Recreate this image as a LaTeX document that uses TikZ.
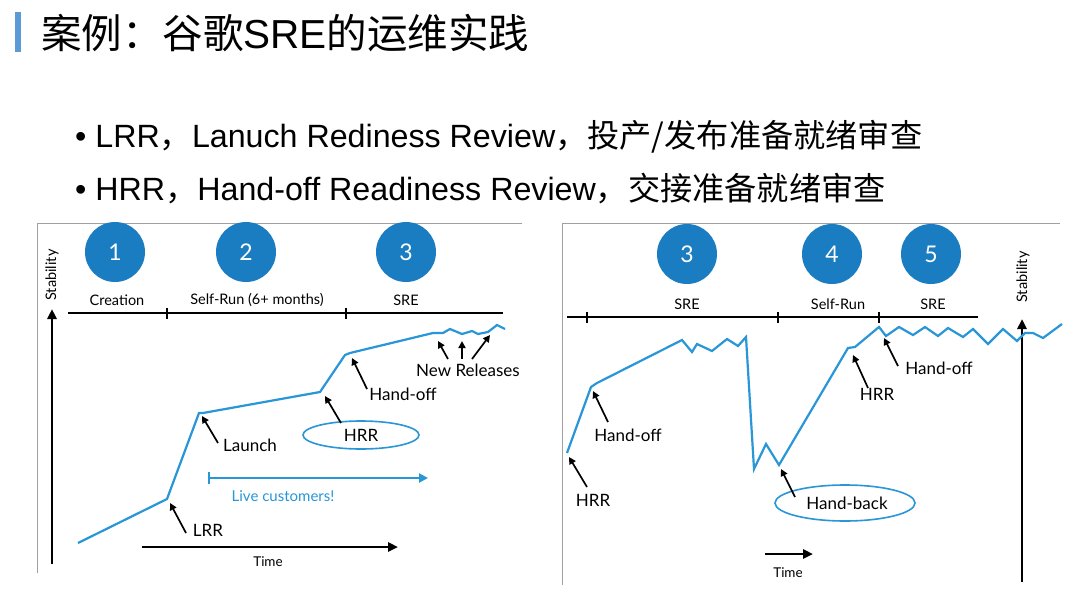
\documentclass[tikz,border=0pt]{standalone}
\usepackage{fontspec}
\setmainfont{Liberation Sans}
\newfontfamily\cjk{Noto Sans CJK SC}
\newfontfamily\dia{Lato}
\usetikzlibrary{arrows.meta,shapes.geometric}
\definecolor{circblue}{RGB}{27,125,193}
\definecolor{curveblue}{RGB}{40,150,215}
\definecolor{barblue}{RGB}{91,155,213}
\definecolor{framegray}{RGB}{160,160,160}
\begin{document}
\begin{tikzpicture}[x=1pt,y=-1pt,
  num/.style={circle, fill=circblue, minimum size=60pt, inner sep=0pt, text=white, font=\dia\fontsize{23}{23}\selectfont},
  phase/.style={font=\dia\fontsize{14.5}{15}\selectfont, inner sep=1pt},
  lbl/.style={font=\dia\fontsize{17}{17}\selectfont, inner sep=1pt},
  timelbl/.style={font=\dia\fontsize{13.5}{14}\selectfont, inner sep=1pt},
  curve/.style={draw=curveblue, line width=2.2pt, line join=miter},
  tline/.style={draw=black, line width=1.3pt},
  ptr/.style={-{Triangle[length=7pt,width=7pt]}, line width=1.7pt},
  axis/.style={-{Triangle[length=10pt,width=9pt]}, line width=2.6pt},
  frame/.style={draw=framegray, line width=1pt},
  oval/.style={ellipse, draw=curveblue, line width=1.6pt, inner sep=0pt},
  title/.style={font=\fontsize{40.5}{41}\selectfont, anchor=west, inner sep=0pt},
  bullet/.style={font=\fontsize{32.2}{33}\selectfont, anchor=west, inner sep=0pt}]
\useasboundingbox (0,0) rectangle (1080,598);
\fill[white] (0,0) rectangle (1080,598);

% title
\fill[barblue] (15,12) rectangle (21,52);
\node[title] (ttl) at (41,33) {\cjk 案例：谷歌\fontspec{Liberation Sans}SRE\cjk 的运维实践};
\node[bullet] (b1) at (75,137) {• LRR\cjk ，\fontspec{Liberation Sans}Lanuch Rediness Review\cjk ，投产/发布准备就绪审查};
\node[bullet] (b2) at (75,189) {• HRR\cjk ，\fontspec{Liberation Sans}Hand-off Readiness Review\cjk ，交接准备就绪审查};

% ===== left panel =====
\draw[frame] (37,573) -- (37,223) -- (522,223);
\node[num] (L1) at (115,252) {1};
\node[num] (L2) at (246,252) {2};
\node[num] (L3) at (406,252) {3};
\node[phase] (Lp1) at (117,300) {Creation};
\node[phase] (Lp2) at (257,300) {Self-Run (6+ months)};
\node[phase] (Lp3) at (406,300) {SRE};
\coordinate (LtA) at (68,313);
\coordinate (LtB) at (503,313);
\draw[tline] (LtA) -- (LtB);
\draw[tline] (167,308) -- (167,319);
\draw[tline] (346,308) -- (346,319);
\coordinate (LsA) at (52,564);
\coordinate (LsB) at (52,309);
\draw[axis] (LsA) -- (LsB);
\node[phase, rotate=90] (Lst) at (52,275) {Stability};
\coordinate (LxA) at (142,547);
\coordinate (LxB) at (398,547);
\draw[axis] (LxA) -- (LxB);
\node[timelbl] (Ltm) at (268,562) {Time};
\draw[curve] (78,543) -- (167,499) -- (199,413) -- (203,413) -- (320,392) -- (345,355) -- (350,353)
  -- (433,333) -- (443,333) -- (450,329) -- (462,334) -- (472,331) -- (478,334) -- (488,332)
  -- (497,325) -- (505,329);
% LRR
\node[lbl] (Llrr) at (208,530) {LRR};
\coordinate (LlrrS) at (186,533);
\coordinate (LlrrT) at (170,503);
\draw[ptr] (LlrrS) -- (LlrrT);
% Launch
\node[lbl] (Llau) at (250,445) {Launch};
\coordinate (LlauS) at (218,443);
\coordinate (LlauT) at (202,416);
\draw[ptr] (LlauS) -- (LlauT);
% HRR
\node[oval, minimum width=116pt, minimum height=28pt] (Lhrr) at (361,435) {};
\node[lbl] (LhrrT) at (361,435) {HRR};
\coordinate (LhrrS) at (341,423);
\coordinate (LhrrE) at (325,396);
\draw[ptr] (LhrrS) -- (LhrrE);
% Hand-off
\node[lbl] (Lho) at (403,394) {Hand-off};
\coordinate (LhoS) at (367,389);
\coordinate (LhoE) at (352,358);
\draw[ptr] (LhoS) -- (LhoE);
% New Releases
\node[lbl] (Lnr) at (468,370) {New Releases};
\coordinate (Lnr1S) at (448,359);
\coordinate (Lnr1E) at (438,341);
\coordinate (Lnr2S) at (462,359);
\coordinate (Lnr2E) at (462,341);
\coordinate (Lnr3S) at (472,359);
\coordinate (Lnr3E) at (490,335);
\draw[ptr] (Lnr1S) -- (Lnr1E);
\draw[ptr] (Lnr2S) -- (Lnr2E);
\draw[ptr] (Lnr3S) -- (Lnr3E);
% live customers
\coordinate (LlcA) at (208,478);
\coordinate (LlcB) at (428,478);
\draw[curveblue, line width=2.2pt, {Bar[width=12pt,line width=2.2pt]}-{Triangle[length=9pt,width=9pt]}] (LlcA) -- (LlcB);
\node[phase, text=curveblue, font=\dia\fontsize{15}{15}\selectfont] (Llc) at (283,496) {Live customers!};

% ===== right panel =====
\draw[frame] (562,585) -- (562,223) -- (1060,223);
\node[num] (R3) at (687,254) {3};
\node[num] (R4) at (832,254) {4};
\node[num] (R5) at (931,254) {5};
\node[phase] (Rp1) at (687,304) {SRE};
\node[phase] (Rp2) at (838,304) {Self-Run};
\node[phase] (Rp3) at (933,304) {SRE};
\coordinate (RtA) at (567,317);
\coordinate (RtB) at (978,317);
\draw[tline] (RtA) -- (RtB);
\draw[tline] (587,312) -- (587,323);
\draw[tline] (778,312) -- (778,323);
\draw[tline] (879,312) -- (879,323);
\coordinate (RsA) at (1022,582);
\coordinate (RsB) at (1022,319);
\draw[axis] (RsA) -- (RsB);
\node[phase, rotate=90] (Rst) at (1023,277) {Stability};
\coordinate (RxA) at (765,554);
\coordinate (RxB) at (813,554);
\draw[axis] (RxA) -- (RxB);
\node[timelbl] (Rtm) at (788,573) {Time};
\draw[curve] (567,453) -- (591,387) -- (597,383) -- (682,340) -- (692,352) -- (697,344) -- (712,351)
  -- (727,339) -- (738,346) -- (746,337) -- (754,469) -- (766,444) -- (779,465) -- (848,348)
  -- (855,347) -- (879,327) -- (886,336) -- (899,327) -- (913,335) -- (925,327) -- (938,336)
  -- (948,328) -- (963,337) -- (973,329) -- (988,344) -- (1003,329) -- (1017,341) -- (1025,333)
  -- (1033,333) -- (1043,338) -- (1062,324);
% HRR bottom-left
\node[lbl] (Rhrr1) at (593,500) {HRR};
\coordinate (Rhrr1S) at (587,487);
\coordinate (Rhrr1E) at (569,457);
\draw[ptr] (Rhrr1S) -- (Rhrr1E);
% Hand-off left
\node[lbl] (Rho1) at (628,435) {Hand-off};
\coordinate (Rho1S) at (608,422);
\coordinate (Rho1E) at (593,391);
\draw[ptr] (Rho1S) -- (Rho1E);
% Hand-back
\node[oval, minimum width=140pt, minimum height=36pt] (Rhb) at (845,503) {};
\node[lbl] (RhbT) at (847,503) {Hand-back};
\coordinate (RhbS) at (795,497);
\coordinate (RhbE) at (781,469);
\draw[ptr] (RhbS) -- (RhbE);
% HRR right
\node[lbl] (Rhrr2) at (877,394) {HRR};
\coordinate (Rhrr2S) at (868,388);
\coordinate (Rhrr2E) at (853,355);
\draw[ptr] (Rhrr2S) -- (Rhrr2E);
% Hand-off right
\node[lbl] (Rho2) at (939,368) {Hand-off};
\coordinate (Rho2S) at (898,366);
\coordinate (Rho2E) at (884,338);
\draw[ptr] (Rho2S) -- (Rho2E);
\end{tikzpicture}
\end{document}
